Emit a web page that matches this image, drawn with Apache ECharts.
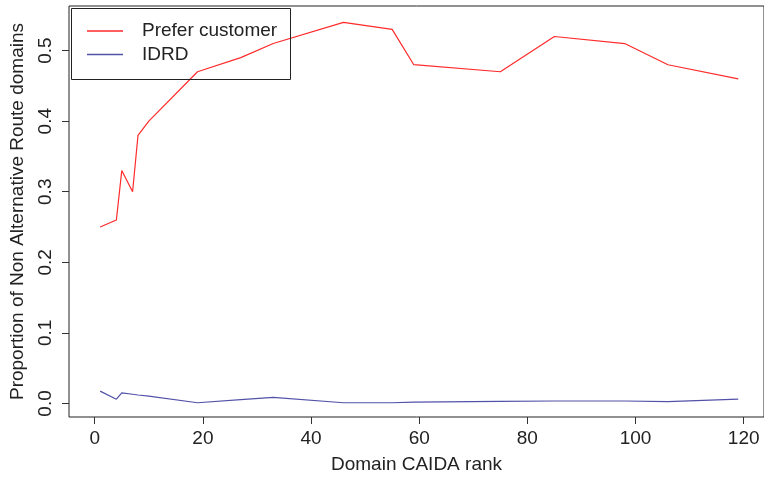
<!DOCTYPE html>
<html>
<head>
<meta charset="utf-8">
<script src="https://cdn.jsdelivr.net/npm/echarts@6/dist/echarts.min.js"></script>
<style>
html,body{margin:0;padding:0;background:#fff;}
#c{width:764px;height:479px;}
</style>
</head>
<body>
<div id="c"></div>
<script>
var ranks = [1, 4, 5, 7, 8, 10, 19, 27, 33, 46, 55, 59, 75, 85, 98, 106, 119];
var preferCustomer = [0.25, 0.26, 0.33, 0.30, 0.38, 0.40, 0.47, 0.49, 0.51, 0.54, 0.53, 0.48, 0.47, 0.52, 0.51, 0.48, 0.46];
var idrd = [0.0175, 0.006, 0.015, 0.013, 0.012, 0.0105, 0.001, 0.0055, 0.0085, 0.001, 0.001, 0.002, 0.003, 0.0035, 0.0035, 0.0025, 0.006];
var xTicks = [0, 20, 40, 60, 80, 100, 120];
var yTicks = [0.0, 0.1, 0.2, 0.3, 0.4, 0.5];
var seriesNames = ['Prefer customer', 'IDRD'];
var xTitle = 'Domain CAIDA rank';
var yTitle = 'Proportion of Non Alternative Route domains';

function pairs(xs, ys) { return xs.map(function (x, i) { return [x, ys[i]]; }); }

var FONT = 'Liberation Sans';
var FS = 19;
var chart = echarts.init(document.getElementById('c'), null, {renderer: 'canvas'});
chart.setOption({
  animation: false,
  backgroundColor: '#ffffff',
  grid: {left: 69, top: 6, right: -2.4, bottom: 58, show: true, borderColor: '#222', borderWidth: 1, containLabel: false},
  xAxis: {
    type: 'value', min: -4.76, max: 123.76,
    name: xTitle, nameLocation: 'middle', nameGap: 38,
    nameTextStyle: {fontFamily: FONT, fontSize: FS, color: '#222'},
    axisLine: {show: false, onZero: false},
    splitLine: {show: false},
    axisTick: {show: true, length: 7, customValues: xTicks, lineStyle: {color: '#333'}},
    axisLabel: {customValues: xTicks, margin: 12, fontFamily: FONT, fontSize: FS, color: '#222'}
  },
  yAxis: {
    type: 'value', min: -0.0192, max: 0.5632,
    name: yTitle, nameLocation: 'middle', nameGap: 42, nameRotate: 90,
    nameTextStyle: {fontFamily: FONT, fontSize: FS, color: '#222'},
    axisLine: {show: false, onZero: false},
    splitLine: {show: false},
    axisTick: {show: true, length: 7, customValues: yTicks, lineStyle: {color: '#333'}},
    axisLabel: {customValues: yTicks, rotate: 90, margin: 14, fontFamily: FONT, fontSize: FS, color: '#222',
      formatter: function (v) { return v.toFixed(1); }}
  },
  legend: {
    orient: 'vertical', left: 87, top: 21, itemWidth: 36, itemHeight: 1.5, itemGap: 3.5,
    icon: 'rect', padding: 0,
    data: seriesNames,
    textStyle: {fontFamily: FONT, fontSize: FS, color: '#222', lineHeight: 20, padding: [0, 0, 0, 14]}
  },
  graphic: [{
    type: 'rect', left: 69, top: 6, z: 10, silent: true,
    shape: {width: 219, height: 71},
    style: {fill: 'none', stroke: '#222', lineWidth: 1}
  }],
  series: [{
    name: seriesNames[0], type: 'line', data: pairs(ranks, preferCustomer),
    showSymbol: false, symbol: 'none', color: '#ff2a2a',
    lineStyle: {width: 1.2, color: '#ff2a2a'}
  }, {
    name: seriesNames[1], type: 'line', data: pairs(ranks, idrd),
    showSymbol: false, symbol: 'none', color: '#5252a8',
    lineStyle: {width: 1.2, color: '#5252a8'}
  }]
});
</script>
</body>
</html>
